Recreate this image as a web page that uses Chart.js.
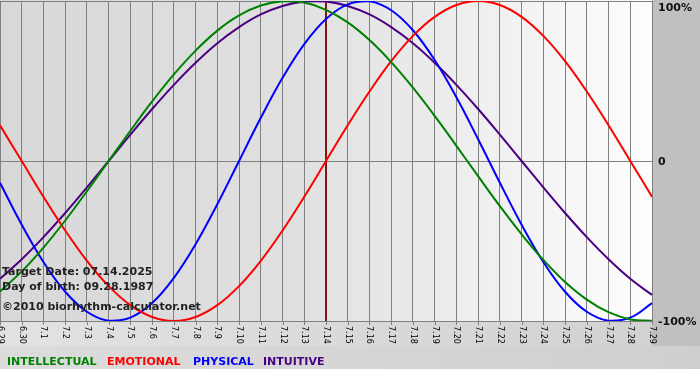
<!DOCTYPE html>
<html><head><meta charset="utf-8">
<script src="https://cdn.jsdelivr.net/npm/chart.js@4/dist/chart.umd.min.js"></script>
<style>html,body{margin:0;padding:0;background:#fff}#wrap{width:700px;height:380px;position:relative}</style>
</head><body><div id="wrap"><canvas id="c" width="700" height="380"></canvas></div>
<script>
const dayLabels = ['6.29','6.30','7.1','7.2','7.3','7.4','7.5','7.6','7.7','7.8','7.9','7.10','7.11','7.12','7.13','7.14','7.15','7.16','7.17','7.18','7.19','7.20','7.21','7.22','7.23','7.24','7.25','7.26','7.27','7.28','7.29'];
const intellectual = [-81.5,-69.0,-54.1,-37.2,-18.9,0,18.9,37.2,54.1,69.0,81.5,91.0,97.2,99.9,99.0,94.5,86.6,75.6,61.8,45.8,28.2,9.5,-9.5,-28.2,-45.8,-61.8,-75.6,-86.6,-94.5,-99.0,-99.9];
const emotional = [22.3,0,-22.3,-43.4,-62.4,-78.2,-90.1,-97.5,-100,-97.5,-90.1,-78.2,-62.4,-43.4,-22.3,0,22.3,43.4,62.4,78.2,90.1,97.5,100,97.5,90.1,78.2,62.4,43.4,22.3,0,-22.3];
const physical = [-13.6,-39.8,-63.1,-81.7,-94.2,-99.8,-97.9,-88.8,-73.1,-52.0,-27.0,0,27.0,52.0,73.1,88.8,97.9,99.8,94.2,81.7,63.1,39.8,13.6,-13.6,-39.8,-63.1,-81.7,-94.2,-99.8,-97.9,-88.8];
const intuitive = [-73.6,-61.4,-47.6,-32.5,-16.5,0,16.5,32.5,47.6,61.4,73.6,83.7,91.6,96.9,99.7,99.7,96.9,91.6,83.7,73.6,61.4,47.6,32.5,16.5,0,-16.5,-32.5,-47.6,-61.4,-73.6,-83.7];
const yTickLabels = {'100':'100%','0':'0','-100':'-100%'};
const targetDay = '7.14';
const infoLines = ['Target Date: 07.14.2025','Day of birth: 09.28.1987','\u00A92010 biorhythm-calculator.net'];
const seriesNames = ['INTELLECTUAL','EMOTIONAL','PHYSICAL','INTUITIVE'];
const seriesColors = ['#008000','#ff0000','#0000ff','#4b0082'];

const FONT = '"DejaVu Sans", Verdana, sans-serif';

const decor = {
  id: 'decor',
  beforeDraw(chart) {
    const {ctx, chartArea: a} = chart;
    ctx.save();
    ctx.fillStyle = '#ffffff';
    ctx.fillRect(0, 0, chart.width, chart.height);
    // right margin
    ctx.fillStyle = '#c0c0c0';
    ctx.fillRect(a.right, 0, chart.width - a.right, 346);
    // bottom strip
    let g = ctx.createLinearGradient(0, 0, a.right, 0);
    g.addColorStop(0, '#e2e2e2');
    g.addColorStop(1, '#d2d2d2');
    ctx.fillStyle = g;
    ctx.fillRect(0, a.bottom, a.right, 346 - a.bottom);
    g = ctx.createLinearGradient(0, 0, chart.width, 0);
    g.addColorStop(0, '#dcdcdc');
    g.addColorStop(1, '#cfcfcf');
    ctx.fillStyle = g;
    ctx.fillRect(0, 346, chart.width, 23);
    // plot background
    g = ctx.createLinearGradient(a.left, 0, a.right, 0);
    g.addColorStop(0, '#d8d8d8');
    g.addColorStop(0.45, '#e0e0e0');
    g.addColorStop(1, '#fdfdfd');
    ctx.fillStyle = g;
    ctx.fillRect(a.left, a.top - 1, a.right - a.left, a.bottom - a.top + 1);
    ctx.restore();
  },
  beforeDatasetsDraw(chart) {
    const {ctx, chartArea: a, scales: {x}} = chart;
    const px = x.getPixelForValue(dayLabels.indexOf(targetDay));
    ctx.save();
    ctx.strokeStyle = '#801818';
    ctx.lineWidth = 2;
    ctx.beginPath();
    ctx.moveTo(Math.round(px) + 0.0, a.top);
    ctx.lineTo(Math.round(px) + 0.0, a.bottom);
    ctx.stroke();
    ctx.restore();
  },
  afterDraw(chart) {
    const {ctx, chartArea: a, scales: {x, y}} = chart;
    ctx.save();
    // tick marks and rotated labels
    ctx.strokeStyle = '#808080';
    ctx.lineWidth = 1;
    ctx.fillStyle = '#000';
    ctx.font = '8px ' + FONT;
    ctx.textBaseline = 'middle';
    ctx.textAlign = 'left';
    dayLabels.forEach((lab, i) => {
      const px = Math.round(x.getPixelForValue(i)) + 0.5;
      ctx.beginPath();
      ctx.moveTo(px, a.bottom);
      ctx.lineTo(px, a.bottom + 4);
      ctx.stroke();
      ctx.save();
      ctx.translate(px, a.bottom + 5);
      ctx.rotate(Math.PI / 2);
      ctx.fillText(lab, 0, 0);
      ctx.restore();
    });
    // right axis labels
    ctx.font = 'bold 11px ' + FONT;
    ctx.fillStyle = '#111';
    ctx.textBaseline = 'middle';
    Object.keys(yTickLabels).forEach(v => {
      let py = y.getPixelForValue(Number(v));
      py = Math.max(py, a.top + 6);
      ctx.fillText(yTickLabels[v], a.right + 6, py + 1);
    });
    // info text
    ctx.fillStyle = '#222';
    ctx.font = 'bold 11px ' + FONT;
    ctx.textBaseline = 'middle';
    ctx.fillText(infoLines[0], 2, 272);
    ctx.fillText(infoLines[1], 2, 287);
    ctx.fillText(infoLines[2], 2, 307);
    // legend
    const lx = [7, 107, 193, 263];
    chart.data.datasets.forEach((ds, i) => {
      ctx.fillStyle = ds.borderColor;
      ctx.fillText(ds.label, lx[i], 362);
    });
    ctx.restore();
  }
};

const mk = (label, data, color) => ({label, data, borderColor: color, backgroundColor: color, borderWidth: 2, pointRadius: 0, tension: 0.4, fill: false});

new Chart(document.getElementById('c'), {
  type: 'line',
  data: {
    labels: dayLabels,
    datasets: [
      mk(seriesNames[0], intellectual, seriesColors[0]),
      mk(seriesNames[1], emotional, seriesColors[1]),
      mk(seriesNames[2], physical, seriesColors[2]),
      mk(seriesNames[3], intuitive, seriesColors[3])
    ]
  },
  options: {
    responsive: false,
    animation: false,
    devicePixelRatio: 1,
    layout: {padding: {left: 0, top: 1, right: 48, bottom: 59}},
    plugins: {legend: {display: false}, tooltip: {enabled: false}},
    scales: {
      x: {
        type: 'category', offset: false,
        grid: {color: '#808080', lineWidth: 1, drawTicks: false},
        border: {display: false},
        ticks: {display: false}
      },
      y: {
        position: 'right', min: -100, max: 100,
        ticks: {display: false, stepSize: 100},
        grid: {color: '#808080', lineWidth: 1, drawTicks: false},
        border: {display: false}
      }
    }
  },
  plugins: [decor]
});
</script>
</body></html>
